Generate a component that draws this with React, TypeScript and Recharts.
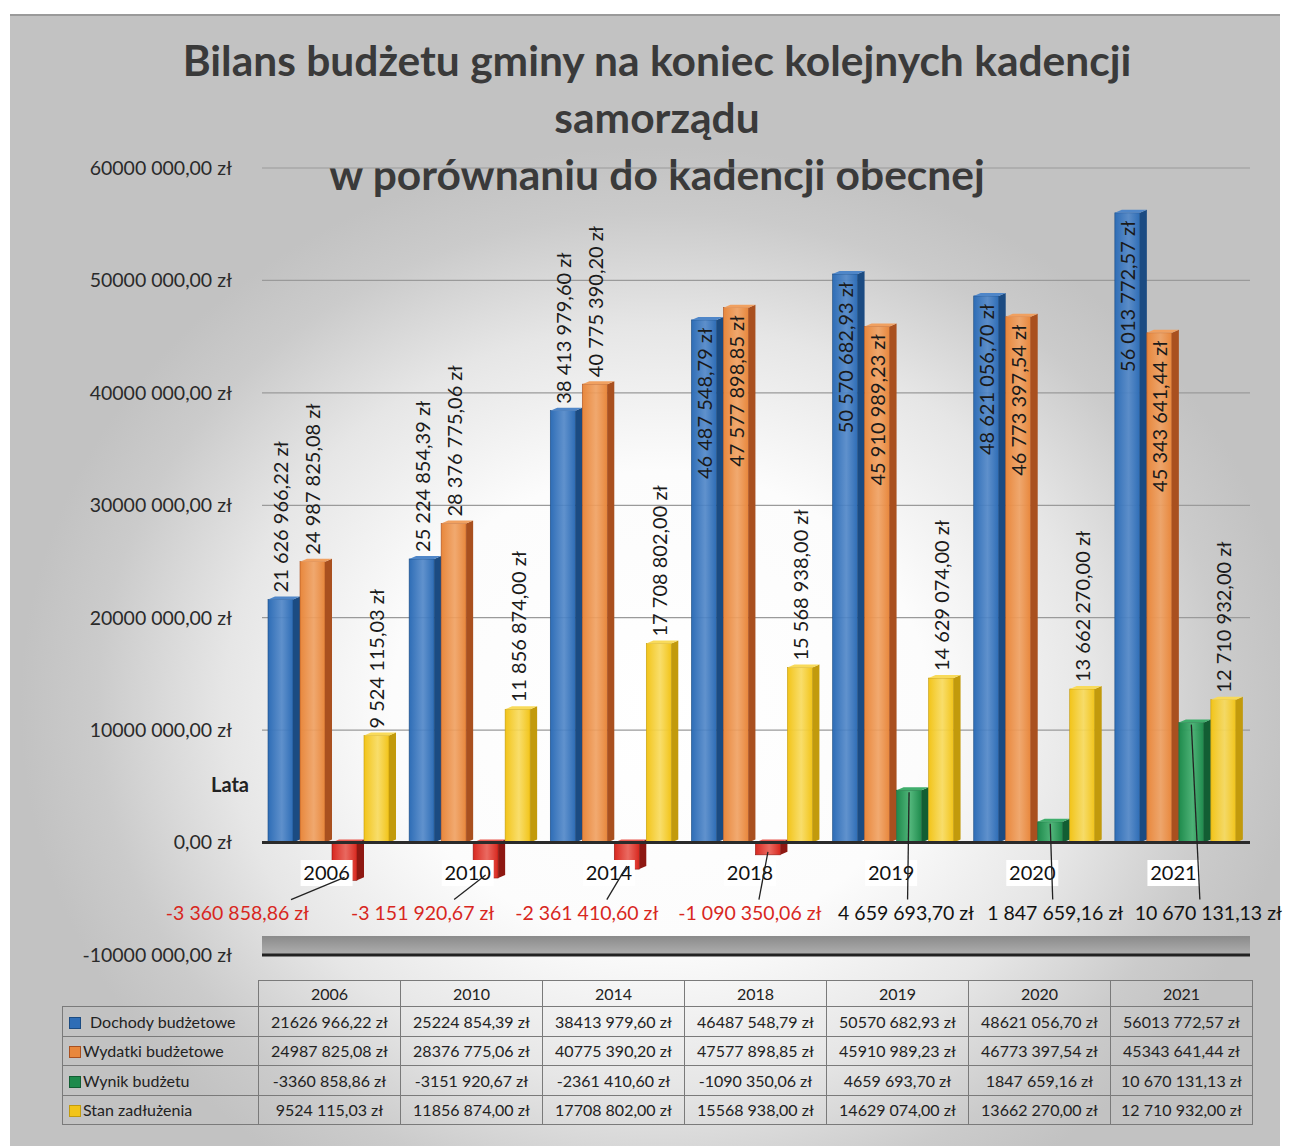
import React from 'react';
import { BarChart, Bar, XAxis, YAxis, CartesianGrid, ReferenceLine, ReferenceArea, LabelList, Cell } from 'recharts';

const categories = ['2006', '2010', '2014', '2018', '2019', '2020', '2021'];
const dochody = [21626966.22, 25224854.39, 38413979.6, 46487548.79, 50570682.93, 48621056.7, 56013772.57];
const wydatki = [24987825.08, 28376775.06, 40775390.2, 47577898.85, 45910989.23, 46773397.54, 45343641.44];
const wynik = [-3360858.86, -3151920.67, -2361410.6, -1090350.06, 4659693.7, 1847659.16, 10670131.13];
const zadluzenie = [9524115.03, 11856874.0, 17708802.0, 15568938.0, 14629074.0, 13662270.0, 12710932.0];
const seriesNames = ['Dochody budżetowe', 'Wydatki budżetowe', 'Wynik budżetu', 'Stan zadłużenia'];
const yTicks = [-10000000, 0, 10000000, 20000000, 30000000, 40000000, 50000000, 60000000];
const titleLines = ['Bilans budżetu gminy na koniec kolejnych kadencji', 'samorządu', 'w porównaniu do kadencji obecnej'];
const xAxisTitle = 'Lata';

// styling only: horizontal shift of the "Wynik" labels (manually spread in the original)
const wynikLabelShift = [-107, -63, -40, -18, -3, 5, 17];

const data = categories.map((c, i) => ({
  year: c,
  dochody: dochody[i],
  wydatki: wydatki[i],
  wynik: wynik[i],
  zadluzenie: zadluzenie[i],
}));

const FONT = 'Lato, "Open Sans", sans-serif';
const BLUE = '#2E6DB6';
const ORANGE = '#E8873C';
const GREEN = '#1E8A4C';
const RED = '#D8271E';
const YELLOW = '#F2C419';
const SIDE: Record<string, string> = {
  [BLUE]: '#1B4B82',
  [ORANGE]: '#A9501F',
  [GREEN]: '#125E33',
  [RED]: '#8E1812',
  [YELLOW]: '#C29A0C',
};
const TOPC: Record<string, string> = {
  [BLUE]: '#4F86C8',
  [ORANGE]: '#F0A060',
  [GREEN]: '#3FAE6C',
  [RED]: '#E85A50',
  [YELLOW]: '#F8DA5A',
};
const seriesColors = [BLUE, ORANGE, GREEN, YELLOW];

function fmtFull(v: number) {
  const neg = v < 0;
  const [int, dec] = Math.abs(v).toFixed(2).split('.');
  const g = int.replace(/\B(?=(\d{3})+(?!\d))/g, ' ');
  return (neg ? '-' : '') + g + ',' + dec + ' zł';
}
function fmtLast(v: number) {
  const neg = v < 0;
  const [int, dec] = Math.abs(v).toFixed(2).split('.');
  const g = int.length > 3 ? int.slice(0, -3) + ' ' + int.slice(-3) : int;
  return (neg ? '-' : '') + g + ',' + dec + ' zł';
}

const DEPTH = 7;

const Bar3D = (props: any) => {
  const { x, y, width, height, fill } = props;
  if (x == null || width == null || !height) return null;
  const top = Math.min(y, y + height);
  const h = Math.abs(height);
  const d = DEPTH;
  const s = 3;
  const side = SIDE[fill] || fill;
  const tc = TOPC[fill] || fill;
  const gid = 'grad' + String(fill).slice(1);
  return (
    <g>
      <rect x={x} y={top} width={width - d} height={h} fill={`url(#${gid})`} stroke={side} strokeWidth={0.6} />
      <polygon
        points={`${x + width - d},${top} ${x + width},${top - s} ${x + width},${top + h - s} ${x + width - d},${top + h}`}
        fill={side}
      />
      <polygon points={`${x},${top} ${x + d},${top - s} ${x + width},${top - s} ${x + width - d},${top}`} fill={tc} />
    </g>
  );
};

const VertLabel = (props: any) => {
  const { x, y, width, value } = props;
  if (x == null) return null;
  const cx = x + (width - DEPTH) / 2;
  const len = 168;
  const inside = y - len < 178;
  const ty = inside ? y + 8 : y - 7;
  return (
    <text
      x={cx}
      y={ty}
      transform={`rotate(-90 ${cx} ${ty})`}
      textAnchor={inside ? 'end' : 'start'}
      dominantBaseline="central"
      fontSize={20}
      fontFamily={FONT}
      fill="#1a1a1a"
    >
      {fmtFull(value)}
    </text>
  );
};

const WynikLabel = (props: any) => {
  const { x, y, width, height, value, index } = props;
  if (x == null) return null;
  const top = Math.min(y, y + height);
  const bottom = Math.max(y, y + height);
  const zeroY = value >= 0 ? bottom : top;
  const endY = value >= 0 ? top : bottom;
  const bx = x + (width - DEPTH) / 2;
  const lx = bx + wynikLabelShift[index];
  const ly = zeroY + 77;
  const halfW = 73;
  let ex = (lx + bx) / 2;
  if (ex > lx + halfW + 4) ex = lx + halfW + 4;
  return (
    <g>
      <line x1={bx} y1={endY + (value >= 0 ? 2 : -3)} x2={ex} y2={ly - 20} stroke="#222" strokeWidth={1.3} />
      <text x={lx} y={ly} textAnchor="middle" fontSize={19.5} fontFamily={FONT} fill={value < 0 ? RED : '#111'}>
        {fmtFull(value)}
      </text>
    </g>
  );
};

const CatTick = (props: any) => {
  const { x, y, payload } = props;
  const cx = x - 6;
  const ty = y - 75;
  return (
    <g>
      <rect x={cx - 26} y={ty - 20} width={52} height={26} fill="#ffffff" />
      <text x={cx} y={ty} textAnchor="middle" fontSize={20} fontFamily={FONT} fill="#111">
        {payload.value}
      </text>
    </g>
  );
};

const tableKeys = ['dochody', 'wydatki', 'wynik', 'zadluzenie'];

export default function App() {
  const colW = 142;
  return (
    <div
      style={{
        position: 'absolute',
        left: 0,
        top: 0,
        width: 1290,
        height: 1146,
        background: '#ffffff',
        overflow: 'hidden',
        fontFamily: FONT,
      }}
    >
      <div
        style={{
          position: 'absolute',
          left: 10,
          top: 14,
          width: 1270,
          height: 1132,
          background:
            'radial-gradient(ellipse 640px 560px at 650px 690px, #ffffff 0%, #fcfcfc 42%, #e6e6e6 68%, #cbcbcb 88%, #c2c2c2 100%)',
          borderTop: '2px solid #9a9a9a',
        }}
      />
      {titleLines.map((t, i) => (
        <div
          key={i}
          style={{
            position: 'absolute',
            left: 0,
            width: 1314,
            top: 35 + i * 57,
            textAlign: 'center',
            fontSize: 42.5,
            fontWeight: 700,
            color: '#3a3a3a',
            lineHeight: '50px',
            whiteSpace: 'nowrap',
          }}
        >
          {t}
        </div>
      ))}
      <div style={{ position: 'absolute', left: 0, top: 0 }}>
        <BarChart
          width={1290}
          height={985}
          data={data}
          margin={{ top: 168, right: 40, bottom: 29, left: 0 }}
          barGap={0}
          barCategoryGap={6}
        >
          <defs>
            {[BLUE, ORANGE, GREEN, RED, YELLOW].map((c) => (
              <linearGradient key={c} id={'grad' + c.slice(1)} x1="0" y1="0" x2="1" y2="0">
                <stop offset="0%" stopColor={c} />
                <stop offset="55%" stopColor={TOPC[c]} stopOpacity={0.9} />
                <stop offset="100%" stopColor={c} />
              </linearGradient>
            ))}
            <linearGradient id="floorGrad" x1="0" y1="0" x2="0" y2="1">
              <stop offset="0%" stopColor="#8a8a8a" />
              <stop offset="100%" stopColor="#b0b0b0" />
            </linearGradient>
          </defs>
          <CartesianGrid vertical={false} stroke="#9a9a9a" strokeWidth={1.2} />
          <ReferenceArea y1={-10000000} y2={-8300000} fill="url(#floorGrad)" fillOpacity={1} stroke="none" />
          <XAxis
            dataKey="year"
            height={1}
            tickSize={0}
            tickMargin={0}
            axisLine={{ stroke: '#222', strokeWidth: 3 }}
            tickLine={false}
            tick={<CatTick />}
            interval={0}
          />
          <YAxis
            width={262}
            domain={[-10000000, 60000000]}
            ticks={yTicks}
            interval={0}
            tickFormatter={(v: number) => fmtLast(v)}
            axisLine={false}
            tickLine={false}
            tickSize={0}
            tickMargin={30}
            tick={{ fontSize: 19.5, fill: '#2a2a2a', fontFamily: FONT }}
          />
          <ReferenceLine y={0} stroke="#2a2a2a" strokeWidth={3} />
          <Bar dataKey="dochody" name={seriesNames[0]} fill={BLUE} shape={<Bar3D />} isAnimationActive={false}>
            <LabelList dataKey="dochody" content={(p: any) => <VertLabel {...p} />} />
          </Bar>
          <Bar dataKey="wydatki" name={seriesNames[1]} fill={ORANGE} shape={<Bar3D />} isAnimationActive={false}>
            <LabelList dataKey="wydatki" content={(p: any) => <VertLabel {...p} />} />
          </Bar>
          <Bar dataKey="wynik" name={seriesNames[2]} fill={GREEN} shape={<Bar3D />} isAnimationActive={false}>
            {wynik.map((v, i) => (
              <Cell key={i} fill={v < 0 ? RED : GREEN} />
            ))}
            <LabelList dataKey="wynik" content={(p: any) => <WynikLabel {...p} />} />
          </Bar>
          <Bar dataKey="zadluzenie" name={seriesNames[3]} fill={YELLOW} shape={<Bar3D />} isAnimationActive={false}>
            <LabelList dataKey="zadluzenie" content={(p: any) => <VertLabel {...p} />} />
          </Bar>
        </BarChart>
      </div>
      <div
        style={{
          position: 'absolute',
          left: 211,
          top: 772,
          fontSize: 20,
          fontWeight: 700,
          color: '#222',
        }}
      >
        {xAxisTitle}
      </div>
      <table
        style={{
          position: 'absolute',
          left: 62,
          top: 980,
          borderCollapse: 'collapse',
          tableLayout: 'fixed',
          fontSize: 16,
          color: '#222',
          fontFamily: FONT,
        }}
      >
        <colgroup>
          <col style={{ width: 196 }} />
          {categories.map((c) => (
            <col key={c} style={{ width: colW }} />
          ))}
        </colgroup>
        <tbody>
          <tr style={{ height: 26 }}>
            <td style={{ border: 'none' }} />
            {categories.map((c) => (
              <td key={c} style={{ border: '1px solid #7a7a7a', textAlign: 'center', padding: 0 }}>
                {c}
              </td>
            ))}
          </tr>
          {tableKeys.map((k, r) => (
            <tr key={k} style={{ height: 29.5 }}>
              <td style={{ border: '1px solid #7a7a7a', padding: '0 0 0 6px', whiteSpace: 'nowrap' }}>
                <span
                  style={{
                    display: 'inline-block',
                    width: 10,
                    height: 10,
                    background: seriesColors[r],
                    border: '1px solid ' + (SIDE[seriesColors[r]] || '#333'),
                    marginRight: r === 0 ? 9 : 2,
                    verticalAlign: 'middle',
                    position: 'relative',
                    top: -1,
                  }}
                />
                {seriesNames[r]}
              </td>
              {data.map((d: any, i) => {
                const v = d[k] as number;
                const full = i === categories.length - 1 && r >= 2;
                return (
                  <td key={i} style={{ border: '1px solid #7a7a7a', textAlign: 'center', padding: 0, whiteSpace: 'nowrap' }}>
                    {full ? fmtFull(v) : fmtLast(v)}
                  </td>
                );
              })}
            </tr>
          ))}
        </tbody>
      </table>
    </div>
  );
}
